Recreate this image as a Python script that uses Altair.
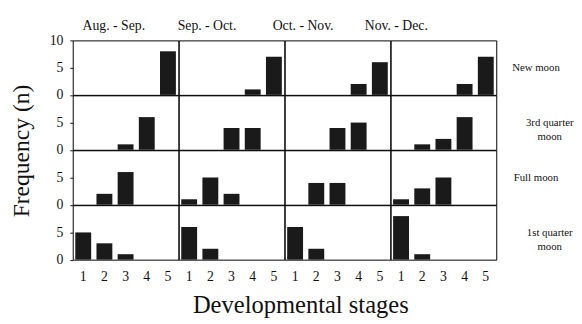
import altair as alt
import pandas as pd

stages = [1, 2, 3, 4, 5]
periods = ["Aug. - Sep.", "Sep. - Oct.", "Oct. - Nov.", "Nov. - Dec."]
phases = ["New moon", "3rd quarter moon", "Full moon", "1st quarter moon"]
phase_labels = [["New moon"], ["3rd quarter", "moon"], ["Full moon"], ["1st quarter", "moon"]]

# frequency per stage (1..5), one list per period
new_moon = [[0, 0, 0, 0, 8], [0, 0, 0, 1, 7], [0, 0, 0, 2, 6], [0, 0, 0, 2, 7]]
third_quarter = [[0, 0, 1, 6, 0], [0, 0, 4, 4, 0], [0, 0, 4, 5, 0], [0, 1, 2, 6, 0]]
full_moon = [[0, 2, 6, 0, 0], [1, 5, 2, 0, 0], [0, 4, 4, 0, 0], [1, 3, 5, 0, 0]]
first_quarter = [[5, 3, 1, 0, 0], [6, 2, 0, 0, 0], [6, 2, 0, 0, 0], [8, 1, 0, 0, 0]]

series = [new_moon, third_quarter, full_moon, first_quarter]
rows = []
for phase, table in zip(phases, series):
    for period, vals in zip(periods, table):
        for s, v in zip(stages, vals):
            rows.append({"phase": phase, "period": period, "stage": s, "n": v})
df = pd.DataFrame(rows)

FONT = "Liberation Serif"
INK = "#111"
W, H = 107.75, 55.5
title_dx = [-12, -25, -35, -48]

cells = []
for r, phase in enumerate(phases):
    for c, period in enumerate(periods):
        if r == 3:
            xaxis = alt.Axis(labelAngle=0, ticks=False, domain=False, labelPadding=10,
                             labelFontSize=14, title=None, grid=False)
        else:
            xaxis = None
        if c == 0:
            yaxis = alt.Axis(values=[0, 5, 10] if r == 0 else [0, 5], tickSize=3, domain=False,
                             grid=False, labelFontSize=14, labelPadding=7, title=None)
        elif c == 3:
            yaxis = alt.Axis(orient="right", labels=False, ticks=False, domain=False, grid=False,
                             title=phase_labels[r], titleAngle=0, titleAlign="center",
                             titleBaseline="middle", titlePadding=40, titleFontSize=11,
                             titleFontWeight="normal", titleLineHeight=14)
        else:
            yaxis = None
        ch = alt.Chart(df).transform_filter(
            alt.FieldEqualPredicate(field="phase", equal=phase)
        ).transform_filter(
            alt.FieldEqualPredicate(field="period", equal=period)
        ).transform_filter(
            alt.datum.n > 0
        ).mark_bar(color="#1a1a1a").encode(
            x=alt.X("stage:O", scale=alt.Scale(domain=stages, paddingInner=0.25, paddingOuter=0.12),
                    axis=xaxis),
            y=alt.Y("n:Q", scale=alt.Scale(domain=[0, 10]), axis=yaxis),
        ).properties(width=W, height=H)
        if r == 0:
            ch = ch.properties(title=alt.TitleParams(period, fontSize=14, font=FONT,
                                                     fontWeight="normal",
                                                     offset=1 if c == 0 else 8,
                                                     dx=title_dx[c]))
        cells.append(ch)

grid = alt.concat(*cells, columns=4, spacing=0, bounds="flush",
                  title=alt.TitleParams("Frequency (n)", orient="left", anchor="middle",
                                        fontSize=24, font=FONT, fontWeight="normal", offset=15))

chart = alt.vconcat(grid, title=alt.TitleParams("Developmental stages", orient="bottom",
                                                anchor="middle", fontSize=25, font=FONT,
                                                fontWeight="normal", offset=10, dx=9)
).properties(
    padding={"left": 2, "top": 7, "right": 0, "bottom": 0}
).configure_view(
    stroke="black", strokeWidth=1
).configure_axis(
    labelFont=FONT, titleFont=FONT, labelColor=INK, titleColor=INK, tickColor=INK
).configure_title(
    color=INK
)

chart.save("out.html", embed_options={"renderer": "svg", "actions": False})
